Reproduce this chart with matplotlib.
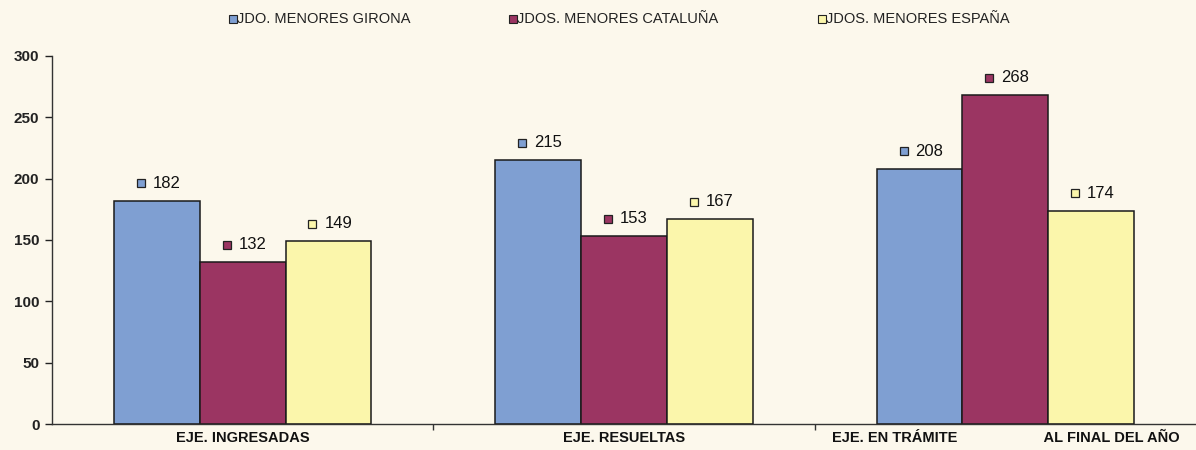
import matplotlib
matplotlib.use("Agg")
import matplotlib.pyplot as plt
import matplotlib.transforms as mtransforms
from matplotlib.lines import Line2D
import numpy as np

categories = ["EJE. INGRESADAS", "EJE. RESUELTAS", "EJE. EN TRÁMITE                     AL FINAL DEL AÑO"]
series_names = ["JDO. MENORES GIRONA", "JDOS. MENORES CATALUÑA", "JDOS. MENORES ESPAÑA"]
girona = [182, 215, 208]
cataluna = [132, 153, 268]
espana = [149, 167, 174]
colors = ["#7f9fd2", "#9b3562", "#fbf6ab"]
bg = "#fcf8ec"

plt.rcParams['font.family'] = ['Liberation Sans', 'DejaVu Sans']

fig = plt.figure(figsize=(11.96, 4.5), dpi=100, facecolor=bg)
ax = fig.add_axes([52/1196, 1-424/450, (1196-52)/1196, (424-56)/450])
ax.set_facecolor(bg)

x = np.arange(len(categories))
w = 0.225
all_series = [girona, cataluna, espana]
for i, (vals, c) in enumerate(zip(all_series, colors)):
    xs = x + (i-1)*w
    ax.bar(xs, vals, width=w, color=c, edgecolor="#1a1a1a", linewidth=1.1, zorder=2)
    for xi, v in zip(xs, vals):
        tr_m = mtransforms.offset_copy(ax.transData, fig=fig, x=-11.5, y=12.5, units='points')
        ax.plot([xi], [v], marker='s', markersize=6, color=c, markeredgecolor="#222222",
                markeredgewidth=0.9, transform=tr_m, clip_on=False, zorder=3)
        ax.annotate(str(v), (xi, v), xytext=(-3, 12.5), textcoords='offset points',
                    ha='left', va='center', fontsize=12, color="#111111")

ax.set_xlim(-0.5, 2.5)
ax.set_ylim(0, 300)
ax.set_yticks([0, 50, 100, 150, 200, 250, 300])
ax.tick_params(axis='y', length=5, width=1, direction='out', labelsize=11, pad=4, colors="#222222")
for lab in ax.get_yticklabels():
    lab.set_fontweight('bold')
ax.set_xticks(x)
ax.set_xticklabels(categories, fontsize=10.5, fontweight='bold')
ax.tick_params(axis='x', length=0, pad=5, colors="#111111")
ax.set_xticks([0.5, 1.5], minor=True)
ax.tick_params(axis='x', which='minor', length=4, width=1, direction='out', colors="#333333")
for s in ['top', 'right']:
    ax.spines[s].set_visible(False)
for s in ['left', 'bottom']:
    ax.spines[s].set_color("#333333")
    ax.spines[s].set_linewidth(1)

leg_x = [233, 513, 822]
for lx, name, c in zip(leg_x, series_names, colors):
    fig.add_artist(Line2D([lx/1196], [1-19/450], marker='s', markersize=5.5, color=c,
                          markeredgecolor="#222222", markeredgewidth=0.8,
                          transform=fig.transFigure))
    fig.text((lx+4)/1196, 1-19/450, name, fontsize=10.5, va='center', ha='left', color="#222222")

fig.savefig("out.png", dpi=100, facecolor=bg)
